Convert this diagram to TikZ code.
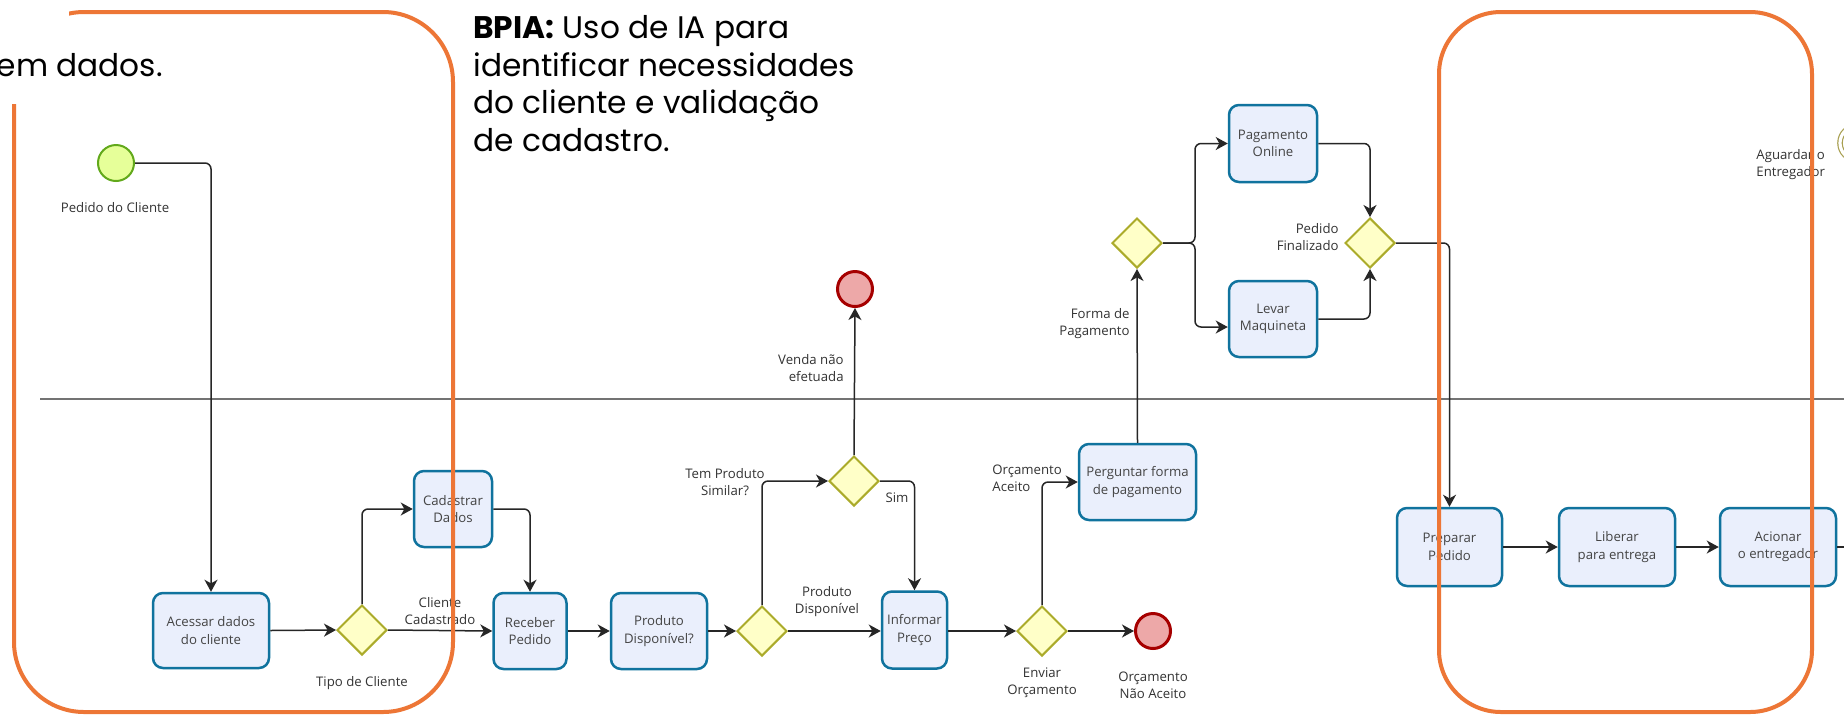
\documentclass[tikz,border=0pt]{standalone}
\usepackage{fontspec}
\setmainfont{Open Sans}
\newfontfamily\bigfont{Poppins}
\usetikzlibrary{shapes.geometric,arrows.meta}
\definecolor{taskfill}{HTML}{EAEFFC}
\definecolor{taskdraw}{HTML}{10739E}
\definecolor{gwfill}{HTML}{FFFFC8}
\definecolor{gwdraw}{HTML}{ABAB2A}
\definecolor{startfill}{HTML}{E6FF99}
\definecolor{startdraw}{HTML}{62A91B}
\definecolor{endfill}{HTML}{EDA8A8}
\definecolor{enddraw}{HTML}{A60000}
\definecolor{orangeline}{HTML}{ED7636}
\definecolor{evdraw}{HTML}{A89F50}
\definecolor{txt}{HTML}{444444}
\definecolor{lbltxt}{HTML}{333333}
\newcommand\mybxfont{\fontsize{6.6}{8.7}\selectfont}
\newcommand\mylbfont{\fontsize{6.6}{8.5}\selectfont}
\newcommand\mybigfont{\bigfont\fontsize{15.6}{18.85}\selectfont}
\begin{document}
\begin{tikzpicture}[x=0.5pt,y=-0.5pt,
  task/.style={draw=taskdraw, fill=taskfill, line width=1.25pt, rounded corners=5pt,
    inner sep=0pt, align=center, font=\mybxfont, text=txt},
  gw/.style={diamond, draw=gwdraw, fill=gwfill, line width=1pt,
    minimum width=25pt, minimum height=25pt, inner sep=0pt},
  startev/.style={circle, draw=startdraw, fill=startfill, line width=1pt,
    minimum size=18pt, inner sep=0pt},
  endev/.style={circle, draw=enddraw, fill=endfill, line width=1.5pt,
    minimum size=17.5pt, inner sep=0pt},
  midev/.style={circle, draw=evdraw, fill=white, double=white, double distance=1.6pt,
    line width=0.6pt, minimum size=17pt, inner sep=0pt},
  conn/.style={draw=black!85, line width=0.75pt, rounded corners=3pt,
    -{Stealth[length=6pt,width=6.5pt,inset=1.8pt]}},
  plainconn/.style={draw=black!85, line width=0.75pt, rounded corners=3pt},
  lbl/.style={font=\mylbfont, text=lbltxt, inner sep=0pt, align=center},
  orangebox/.style={draw=orangeline, line width=2pt},
  bigtxt/.style={font=\mybigfont, text=black, inner sep=0pt, align=left}
]
\clip (0,0) rectangle (1844,714);
\fill[white] (0,0) rectangle (1844,714);

% lane separator
\draw[black!55, line width=0.6pt] (40,399) -- (1844,399);

% events
\node[startev] (start) at (116,163) {};
\node[endev] (endvenda) at (855,289) {};
\node[endev] (endorc) at (1153,631) {};
\node[midev] (aguard) at (1857,143) {};

% tasks
\node[task, minimum width=58pt, minimum height=37.5pt] (acessar) at (211,630.5) {Acessar dados\\do cliente};
\node[task, minimum width=39pt, minimum height=38pt] (cadastrar) at (453,509) {Cadastrar\\Dados};
\node[task, minimum width=36.5pt, minimum height=38pt] (receber) at (530,631) {Receber\\Pedido};
\node[task, minimum width=48pt, minimum height=38pt] (produto) at (659,631) {Produto\\Disponível?};
\node[task, minimum width=32.5pt, minimum height=38.5pt] (informar) at (914.5,630) {Informar\\Preço};
\node[task, minimum width=58.5pt, minimum height=38pt] (perguntar) at (1137.5,482) {Perguntar forma\\de pagamento};
\node[task, minimum width=44pt, minimum height=38.5pt] (pagonline) at (1273,143.5) {Pagamento\\Online};
\node[task, minimum width=44pt, minimum height=38pt] (levar) at (1273,319) {Levar\\Maquineta};
\node[task, minimum width=52.5pt, minimum height=39pt] (preparar) at (1449.5,547) {Preparar\\Pedido};
\node[task, minimum width=58pt, minimum height=39pt] (liberar) at (1617,547) {Liberar\\para entrega};
\node[task, minimum width=58pt, minimum height=39pt] (acionar) at (1778,547) {Acionar\\o entregador};

% gateways
\node[gw] (dtipo) at (362,630) {};
\node[gw] (dprod) at (762,631) {};
\node[gw] (dsim) at (854,481) {};
\node[gw] (denviar) at (1042,631) {};
\node[gw] (dforma) at (1137,243) {};
\node[gw] (dfinal) at (1370,243) {};

% labels
\node[lbl] (lpedido) at (115,208) {Pedido do Cliente};
\node[lbl] (ltipo) at (362,683) {Tipo de Cliente};
\node[lbl] (lcad) at (440,611) {Cliente\\Cadastrado};
\node[lbl] (lsimilar) at (725,482) {Tem Produto\\Similar?};
\node[lbl] (ldisp) at (827,602) {Produto\\Disponível};
\node[lbl] (lsim) at (897,498) {Sim};
\node[lbl, anchor=east, align=right] (lvenda) at (844,368) {Venda não\\efetuada};
\node[lbl, anchor=west, align=left] (laceito) at (992,478) {Orçamento\\Aceito};
\node[lbl] (lenviar) at (1042,683) {Enviar\\Orçamento};
\node[lbl] (lnao) at (1153,685) {Orçamento\\Não Aceito};
\node[lbl, anchor=east, align=right] (lforma) at (1130,324) {Forma de\\Pagamento};
\node[lbl, anchor=east, align=right] (lfinal) at (1339,237) {Pedido\\Finalizado};
\node[lbl, anchor=west, align=left] (laguard) at (1756,165) {Aguardar o\\Entregador};

% connectors
\coordinate (fork) at (1195,243);
\coordinate (offr) at (1880,547);
\draw[conn] (start.east) -| (acessar.north);
\draw[conn] (acessar.east) -- (dtipo.west);
\draw[conn] (dtipo.north) |- (cadastrar.west);
\draw[conn] (dtipo.east) -- (receber.west);
\draw[conn] (cadastrar.east) -| (receber.north);
\draw[conn] (receber.east) -- (produto.west);
\draw[conn] (produto.east) -- (dprod.west);
\draw[conn] (dprod.north) |- (dsim.west);
\draw[conn] (dprod.east) -- (informar.west |- dprod.east);
\draw[conn] (dsim.north) -- (endvenda.south);
\draw[conn] (dsim.east) -| (informar.north);
\draw[conn] (informar.east |- denviar.west) -- (denviar.west);
\draw[conn] (denviar.east) -- (endorc.west);
\draw[conn] (denviar.north) |- (perguntar.west);
\draw[conn] (perguntar.north) -- (dforma.south);
\draw[conn] (dforma.east) -- (fork) |- (pagonline.west);
\draw[conn] (dforma.east) -- (fork) |- ([yshift=-4pt]levar.west);
\draw[conn] (pagonline.east) -| (dfinal.north);
\draw[conn] (levar.east) -| (dfinal.south);
\draw[conn] (dfinal.east) -| (preparar.north);
\draw[conn] (preparar.east) -- (liberar.west);
\draw[conn] (liberar.east) -- (acionar.west);
\draw[plainconn] (acionar.east) -- (offr);

% highlight boxes
\draw[orangebox, rounded corners=35pt] (14,12) rectangle (453,712);
\draw[orangebox, rounded corners=31pt] (1439,12) rectangle (1812,712);
\fill[white] (0,0) rectangle (69,104);

% annotation texts
\node[bigtxt, anchor=base east] (emdados) at (163,76) {em dados.};
\node[bigtxt, anchor=north west] (bpia) at (473,15) {\textbf{BPIA:} Uso de IA para\\identificar necessidades\\do cliente e validação\\de cadastro.};
\end{tikzpicture}
\end{document}
